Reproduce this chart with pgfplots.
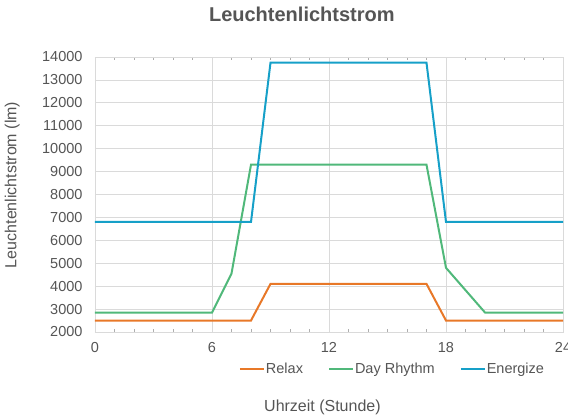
\documentclass[border=0pt]{standalone}
\usepackage{pgfplots}
\pgfplotsset{compat=1.18}
\usepackage{fontspec}
\setmainfont{Liberation Sans}
\definecolor{cRelax}{RGB}{232,120,40}
\definecolor{cDay}{RGB}{80,184,122}
\definecolor{cEnergize}{RGB}{22,160,200}
\definecolor{txt}{RGB}{85,85,85}
\definecolor{gridc}{RGB}{218,218,218}
\begin{document}
\begin{tikzpicture}
\path[use as bounding box] (-95pt,-87pt) rectangle (473pt,332pt);
\begin{axis}[
  at={(0pt,0pt)}, anchor=south west,
  scale only axis,
  width=468pt, height=275pt,
  xmin=0, xmax=24, ymin=2000, ymax=14000,
  xtick={0,6,12,18,24},
  ytick={2000,3000,...,14000},
  scaled ticks=false,
  minor x tick num=5,
  grid=major,
  major grid style={gridc, line width=0.8pt},
  axis line style={gridc, line width=0.8pt},
  major tick length=0pt,
  minor tick length=3pt,
  minor tick style={gridc!80!black, line width=0.6pt},
  /pgf/number format/assume math mode=true,
  /pgf/number format/1000 sep={},
  tick label style={font=\fontsize{14.5}{16}\selectfont, text=txt},
  yticklabel style={xshift=-9pt},
  xticklabel style={yshift=-7pt},
  title={Leuchtenlichtstrom},
  title style={font=\fontsize{20}{22}\selectfont\bfseries, text=txt, at={(axis description cs:0.442,1.135)}, anchor=center},
  xlabel={Uhrzeit (Stunde)},
  xlabel style={font=\fontsize{16}{18}\selectfont, text=txt, at={(axis description cs:0.486,-0.273)}, anchor=center},
  ylabel={Leuchtenlichtstrom (lm)},
  ylabel style={font=\fontsize{16}{18}\selectfont, text=txt, at={(axis description cs:-0.177,0.535)}, anchor=center},
  legend columns=3,
  legend style={draw=none, fill=none, inner sep=0pt, at={(axis description cs:0.962,-0.135)}, anchor=east,
    font=\fontsize{14.5}{16}\selectfont, text=txt,
    nodes={inner xsep=1pt},
    /tikz/every even column/.append style={column sep=24pt}},
  legend cell align=left,
  legend image code/.code={\draw[#1, line width=2pt] (0pt,0pt) -- (24pt,0pt);},
]
\addplot[cRelax, line width=2pt] coordinates {
 (0,2500) (8,2500) (9,4100) (17,4100) (18,2500) (24,2500)};
\addlegendentry{Relax}
\addplot[cDay, line width=2pt] coordinates {
 (0,2850) (6,2850) (7,4550) (8,9300) (17,9300) (18,4800) (20,2850) (24,2850)};
\addlegendentry{Day Rhythm}
\addplot[cEnergize, line width=2pt] coordinates {
 (0,6800) (8,6800) (9,13750) (17,13750) (18,6800) (24,6800)};
\addlegendentry{Energize}
\end{axis}
\end{tikzpicture}
\end{document}
